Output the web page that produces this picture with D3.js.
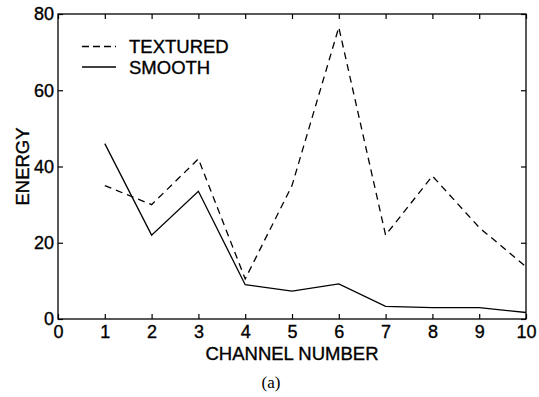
<!DOCTYPE html>
<html>
<head>
<meta charset="utf-8">
<script src="https://cdn.jsdelivr.net/npm/d3@7"></script>
<style>
  body { margin: 0; background: #fff; }
  text { font-family: "Liberation Sans", Arial, sans-serif; }
</style>
</head>
<body>
<svg width="539" height="397"></svg>
<script>
const channels = [1, 2, 3, 4, 5, 6, 7, 8, 9, 10];
const textured = [35, 30, 42, 10.5, 35, 76.5, 22, 37.5, 24, 13.7];
const smooth = [46, 22, 33.5, 9, 7.3, 9.2, 3.3, 3, 3, 1.7];
const xTicks = [0, 1, 2, 3, 4, 5, 6, 7, 8, 9, 10];
const yTicks = [0, 20, 40, 60, 80];

const svg = d3.select("svg");
const m = { left: 58, right: 526, top: 14, bottom: 319 };
const fs = "18px";

let x = d3.scaleLinear().domain([0, 10]).range([m.left, m.right]);
let y = d3.scaleLinear().domain([0, 80]).range([m.bottom, m.top]);

// frame
svg.append("rect")
    .attr("x", m.left).attr("y", m.top)
    .attr("width", m.right - m.left).attr("height", m.bottom - m.top)
    .attr("fill", "none").attr("stroke", "#000").attr("stroke-width", 1.3);

function styleAxis(g) {
    g.select(".domain").remove();
    g.selectAll("line").attr("stroke", "#000").attr("stroke-width", 1.2);
    g.selectAll("text").attr("fill", "#000").attr("stroke", "#000")
        .attr("stroke-width", 0.35).style("font-size", fs);
}

svg.append("g")
    .attr("transform", `translate(0,${m.bottom})`)
    .call(d3.axisBottom(x).tickValues(xTicks).tickSize(-5).tickPadding(6.5))
    .call(styleAxis);
svg.append("g")
    .attr("transform", `translate(0,${m.top})`)
    .call(d3.axisTop(x).tickValues(xTicks).tickSize(-5).tickFormat(""))
    .call(styleAxis);
svg.append("g")
    .attr("transform", `translate(${m.left},0)`)
    .call(d3.axisLeft(y).tickValues(yTicks).tickSize(-5).tickPadding(4))
    .call(styleAxis);
svg.append("g")
    .attr("transform", `translate(${m.right},0)`)
    .call(d3.axisRight(y).tickValues(yTicks).tickSize(-5).tickFormat(""))
    .call(styleAxis);

let line = d3.line().x((d, i) => x(channels[i])).y(d => y(d));

svg.append("path").datum(textured)
    .attr("d", line)
    .attr("fill", "none").attr("stroke", "#000").attr("stroke-width", 1.3)
    .attr("stroke-dasharray", "7,5");
svg.append("path").datum(smooth)
    .attr("d", line)
    .attr("fill", "none").attr("stroke", "#000").attr("stroke-width", 1.3);

// legend
const legend = [
    { name: "TEXTURED", dash: "7,4", yy: 46.5 },
    { name: "SMOOTH", dash: null, yy: 67 }
];
legend.forEach(l => {
    svg.append("line")
        .attr("x1", 82).attr("x2", 116).attr("y1", l.yy).attr("y2", l.yy)
        .attr("stroke", "#000").attr("stroke-width", 1.4)
        .attr("stroke-dasharray", l.dash);
    svg.append("text")
        .attr("x", 129).attr("y", l.yy + 6.5)
        .attr("stroke", "#000").attr("stroke-width", 0.35)
        .style("font-size", "18.5px").text(l.name);
});

svg.append("text")
    .attr("x", (m.left + m.right) / 2).attr("y", 359.5)
    .attr("text-anchor", "middle").style("font-size", "18.5px")
    .attr("stroke", "#000").attr("stroke-width", 0.35)
    .text("CHANNEL NUMBER");
svg.append("text")
    .attr("transform", `translate(29,${(m.top + m.bottom) / 2}) rotate(-90)`)
    .attr("text-anchor", "middle").style("font-size", "18.5px")
    .attr("stroke", "#000").attr("stroke-width", 0.35)
    .text("ENERGY");
svg.append("text")
    .attr("x", 271).attr("y", 388)
    .attr("text-anchor", "middle")
    .style("font-family", "'Liberation Serif', 'Times New Roman', serif")
    .style("font-size", "17px")
    .text("(a)");
</script>
</body>
</html>
